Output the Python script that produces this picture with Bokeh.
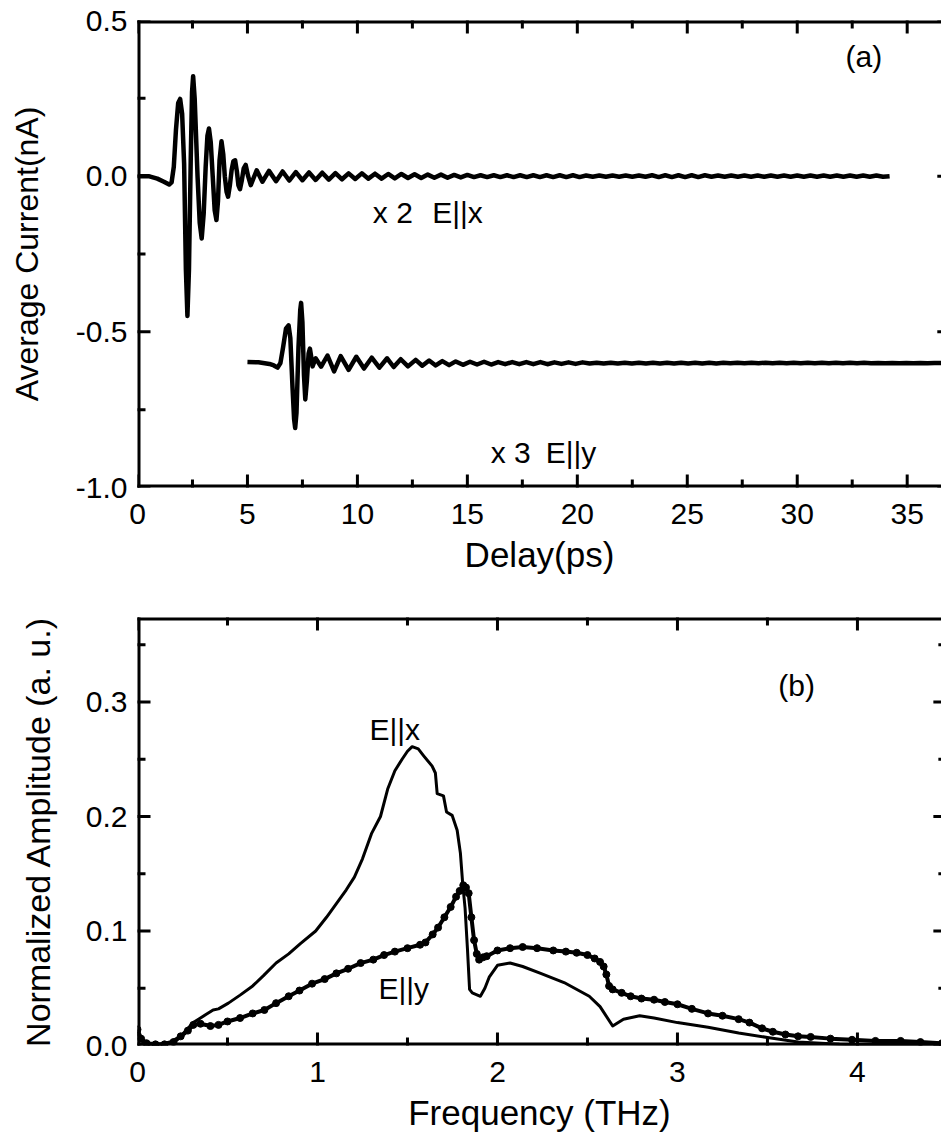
from bokeh.plotting import figure
from bokeh.layouts import column
from bokeh.models import Range1d, LinearAxis, SingleIntervalTicker, PrintfTickFormatter
from bokeh.embed import file_html
from bokeh.resources import INLINE
from bokeh.core.properties import value

FONT = "Liberation Sans"

# ---------------- Panel (a): time-domain traces ----------------
t_ex_pulse = [0.0, 0.5, 0.9, 1.2, 1.44, 1.55, 1.65, 1.75, 1.85, 1.94, 2.03, 2.12, 2.20, 2.27,
              2.34, 2.42, 2.48, 2.53, 2.60, 2.73, 2.83, 2.92, 3.01, 3.10, 3.18, 3.25, 3.33,
              3.42, 3.51, 3.59, 3.66, 3.73, 3.82, 3.90, 3.97, 4.05, 4.12, 4.20, 4.28, 4.36,
              4.44, 4.52, 4.59, 4.66, 4.74, 4.83, 4.92, 5.03]
i_ex_pulse = [0.0, 0.0, -0.008, -0.018, -0.027, -0.02, 0.03, 0.15, 0.235, 0.248, 0.20, 0.04,
              -0.30, -0.449, -0.30, 0.05, 0.27, 0.321, 0.25, 0.0, -0.15, -0.2, -0.12, 0.03,
              0.13, 0.153, 0.11, 0.0, -0.11, -0.141, -0.08, 0.05, 0.112, 0.07, 0.0, -0.05,
              -0.066, -0.03, 0.02, 0.048, 0.051, 0.015, -0.03, -0.042, -0.015, 0.025, 0.036, 0.0]
t_ex_tail = [5.15, 5.42, 5.68, 5.98, 6.30, 6.60, 6.90, 7.20, 7.50, 7.80, 8.10, 8.40, 8.70,
             9.00, 9.30, 9.60, 9.90, 10.20, 10.50, 10.80, 11.10, 11.40, 11.70, 12.00, 12.30,
             12.60, 12.90, 13.20, 13.50, 13.80, 14.10, 14.40, 14.70, 15.00, 15.30, 15.60,
             15.90, 16.20, 16.50, 16.80, 17.10, 17.40, 17.70, 18.00, 18.30, 18.60, 18.90,
             19.20, 19.50, 19.80, 20.10, 20.40, 20.70, 21.00, 21.30, 21.60, 21.90, 22.20,
             22.50, 22.80, 23.10, 23.40, 23.70, 24.00, 24.30, 24.60, 24.90, 25.20, 25.50,
             25.80, 26.10, 26.40, 26.70, 27.00, 27.30, 27.60, 27.90, 28.20, 28.50, 28.80,
             29.10, 29.40, 29.70, 30.00, 30.30, 30.60, 30.90, 31.20, 31.50, 31.80, 32.10,
             32.40, 32.70, 33.00, 33.30, 33.60, 33.90, 34.20]
i_ex_tail = [-0.029, 0.019, -0.018, 0.017,
             -0.016, 0.015, -0.014, 0.013, -0.013, 0.012, -0.012, 0.011, -0.011, 0.010,
             -0.010, 0.009, -0.009, 0.009, -0.008, 0.008, -0.008, 0.007, -0.007, 0.007,
             -0.006, 0.006, -0.006, 0.005, -0.005, 0.005, -0.005, 0.004, -0.004, 0.004,
             -0.003, 0.003, -0.003, 0.003, -0.003, 0.003, -0.003, 0.003, -0.003, 0.003,
             -0.003, 0.003, -0.003, 0.003, -0.003, 0.003, -0.003, 0.002, -0.002, 0.002,
             -0.002, 0.002, -0.002, 0.002, -0.002, 0.002, -0.002, 0.003, -0.003, 0.003,
             -0.003, 0.003, -0.003, 0.003, -0.003, 0.003, -0.002, 0.002, -0.002, 0.002,
             -0.002, 0.002, -0.002, 0.002, -0.002, 0.002, -0.002, 0.002, -0.002, 0.002,
             -0.002, 0.002, -0.002, 0.002, -0.002, 0.002, -0.002, 0.002, -0.002, 0.002,
             -0.002, 0.002, -0.002, 0.0]

t_ey_pulse = [5.0, 5.5, 6.0, 6.2, 6.37, 6.50, 6.62, 6.75, 6.87, 6.95, 7.05, 7.12, 7.17, 7.23,
              7.32, 7.40, 7.44, 7.50, 7.57, 7.63, 7.70, 7.78, 7.84, 7.90, 7.96]
i_ey_pulse = [-0.597, -0.598, -0.603, -0.608, -0.615, -0.600, -0.55, -0.49, -0.479, -0.52,
              -0.68, -0.78, -0.809, -0.76, -0.55, -0.43, -0.407, -0.47, -0.64, -0.717, -0.66,
              -0.57, -0.554, -0.58, -0.611]
t_ey_tail = [8.10, 8.35, 8.64, 8.94, 9.24, 9.60, 9.95, 10.30, 10.65, 11.00, 11.35, 11.65,
             11.97, 12.30, 12.65, 12.95, 13.26, 13.56, 13.86, 14.17, 14.47, 14.80, 15.12,
             15.44, 15.76, 16.08, 16.40, 16.72, 17.04, 17.36, 17.68, 18.00, 18.32, 18.64,
             18.96, 19.28, 19.60, 19.92, 20.24, 20.56, 20.88, 21.20, 21.52, 21.84, 22.16,
             22.48, 22.80, 23.12, 23.44, 23.76, 24.08, 24.40, 24.72, 25.04, 25.36, 25.68,
             26.00, 26.32, 26.64, 26.96, 27.28, 27.60, 27.92, 28.24, 28.56, 28.88, 29.20,
             29.52, 29.84, 30.16, 30.48, 30.80, 31.12, 31.44, 31.76, 32.08, 32.40, 32.72,
             33.04, 33.36, 33.68, 34.00, 34.32, 34.64, 34.96, 35.28, 35.60, 35.92, 36.24,
             36.56, 36.90]
i_ey_tail = [-0.585, -0.612, -0.576, -0.627, -0.578, -0.622, -0.580, -0.618, -0.583, -0.615,
             -0.585, -0.613, -0.588, -0.611, -0.590, -0.609, -0.592, -0.608, -0.594, -0.607,
             -0.595, -0.606,
             -0.596, -0.605, -0.596, -0.605, -0.597, -0.604, -0.597, -0.604, -0.597, -0.604,
             -0.597, -0.604, -0.598, -0.603, -0.598, -0.603, -0.598,
             -0.602, -0.599, -0.602, -0.599, -0.602, -0.599, -0.602, -0.599, -0.602, -0.599,
             -0.602, -0.599, -0.602, -0.599, -0.602, -0.599, -0.602, -0.599, -0.602, -0.599,
             -0.601, -0.599, -0.601, -0.599, -0.601, -0.599, -0.601, -0.599, -0.601, -0.599,
             -0.601, -0.599, -0.601, -0.599, -0.601, -0.599, -0.601, -0.599, -0.601, -0.599,
             -0.601, -0.600, -0.601, -0.600, -0.601, -0.600, -0.601, -0.600, -0.601, -0.600,
             -0.600, -0.600]

t_ex = t_ex_pulse + t_ex_tail
i_ex = i_ex_pulse + i_ex_tail
t_ey = t_ey_pulse + t_ey_tail
i_ey = i_ey_pulse + i_ey_tail

# ---------------- Panel (b): spectra ----------------
f_x = [0.0, 0.03, 0.1, 0.18, 0.24, 0.31, 0.38, 0.42, 0.45, 0.505, 0.57, 0.64, 0.7, 0.77, 0.84,
       0.905, 0.99, 1.05, 1.105, 1.16, 1.205, 1.25, 1.3, 1.35, 1.39, 1.43, 1.47, 1.5, 1.526,
       1.56, 1.59, 1.637, 1.655, 1.665, 1.70, 1.717, 1.748, 1.776, 1.794, 1.807, 1.82, 1.833,
       1.845, 1.86, 1.905, 1.93, 1.955, 2.0, 2.07, 2.14, 2.24, 2.37, 2.51, 2.57, 2.64, 2.7,
       2.79, 2.87, 3.0, 3.17, 3.34, 3.5, 3.67, 3.9, 4.2, 4.47]
a_x = [0.01, 0.003, 0.0, 0.003, 0.008, 0.02, 0.027, 0.031, 0.032, 0.037, 0.044, 0.052, 0.061,
       0.072, 0.080, 0.089, 0.10, 0.112, 0.124, 0.136, 0.147, 0.163, 0.185, 0.2, 0.224, 0.24,
       0.25, 0.257, 0.261, 0.259, 0.253, 0.244, 0.238, 0.220, 0.218, 0.204, 0.201, 0.188,
       0.168, 0.141, 0.12, 0.085, 0.049, 0.046, 0.043, 0.05, 0.060, 0.070, 0.072, 0.069,
       0.063, 0.055, 0.043, 0.034, 0.017, 0.023, 0.026, 0.024, 0.020, 0.016, 0.011, 0.007,
       0.003, 0.001, 0.0, 0.0]

f_y = [0.0, 0.02, 0.05, 0.1, 0.15, 0.2, 0.24, 0.28, 0.31, 0.35, 0.405, 0.45, 0.5, 0.57, 0.64,
       0.705, 0.77, 0.84, 0.9, 0.97, 1.04, 1.105, 1.17, 1.24, 1.31, 1.37, 1.43, 1.5, 1.57, 1.6,
       1.64, 1.67, 1.705, 1.74, 1.77, 1.79, 1.81, 1.825, 1.84, 1.855, 1.87, 1.885, 1.898, 1.92,
       1.94, 2.0, 2.07, 2.14, 2.22, 2.31, 2.38, 2.44, 2.5, 2.54, 2.57, 2.59, 2.605, 2.62, 2.64,
       2.69, 2.74, 2.8, 2.87, 2.93, 3.0, 3.08, 3.17, 3.25, 3.34, 3.4, 3.47, 3.53, 3.6, 3.67,
       3.74, 3.85, 3.97, 4.1, 4.24, 4.35, 4.47]
a_y = [0.014, 0.006, 0.002, 0.001, 0.001, 0.003, 0.008, 0.013, 0.018, 0.019, 0.017, 0.018,
       0.021, 0.024, 0.028, 0.031, 0.037, 0.043, 0.048, 0.054, 0.058, 0.063, 0.067, 0.072,
       0.075, 0.079, 0.082, 0.085, 0.088, 0.090, 0.097, 0.103, 0.112, 0.121, 0.13, 0.135,
       0.14, 0.138, 0.133, 0.112, 0.092, 0.08, 0.075, 0.077, 0.078, 0.083, 0.085, 0.086,
       0.085, 0.083, 0.082, 0.081, 0.079, 0.076, 0.073, 0.069, 0.062, 0.052, 0.049, 0.046,
       0.043, 0.041, 0.040, 0.038, 0.036, 0.032, 0.028, 0.026, 0.023, 0.020, 0.015, 0.012,
       0.0096, 0.008, 0.0075, 0.006, 0.005, 0.004, 0.004, 0.003, 0.002]

# ---------------- tick positions (axis values) ----------------
a_xmajor = [0, 5, 10, 15, 20, 25, 30, 35]
a_xminor = [2.5, 7.5, 12.5, 17.5, 22.5, 27.5, 32.5]
a_ymajor = [-1.0, -0.5, 0.0, 0.5]
a_yminor = [-0.75, -0.25, 0.25]
b_xmajor = [0, 1, 2, 3, 4]
b_xminor = [0.5, 1.5, 2.5, 3.5]
b_ymajor = [0.0, 0.1, 0.2, 0.3]
b_yminor = [0.05, 0.15, 0.25, 0.35]

A_X = (0, 36.56, 36.96)
A_Y = (-1.0, 0.5)
B_X = (0, 4.467, 4.494)
B_Y = (0, 0.3738)

WIDTH = 941
LEFT = 137
MAJ, MIN = 13, 8
OUT = 5


def style_axis(ax, interval, fmt, horizontal, label_size, label_standoff):
    ax.ticker = SingleIntervalTicker(interval=interval, num_minor_ticks=2)
    ax.formatter = PrintfTickFormatter(format=fmt)
    ax.axis_line_color = None
    ax.major_tick_line_color = None
    ax.minor_tick_line_color = None
    ax.major_tick_in = 0
    ax.major_tick_out = 0
    ax.minor_tick_in = 0
    ax.minor_tick_out = 0
    ax.major_label_text_font = FONT
    ax.major_label_text_color = "black"
    ax.major_label_text_font_size = "30px"
    ax.major_label_standoff = 16 if horizontal else 10
    ax.axis_label_text_font = FONT
    ax.axis_label_text_font_size = label_size
    ax.axis_label_text_font_style = "normal"
    ax.axis_label_text_color = "black"
    ax.axis_label_standoff = label_standoff


def make_fig(height, xr, yr, top, bottom):
    p = figure(width=WIDTH, height=height, x_range=Range1d(xr[0], xr[1]),
               y_range=Range1d(yr[0], yr[1]),
               output_backend="svg", toolbar_location=None,
               min_border_left=LEFT, min_border_right=0,
               min_border_top=top, min_border_bottom=bottom,
               x_axis_location=None, y_axis_location=None)
    p.grid.visible = False
    p.outline_line_color = None
    p.background_fill_color = "white"
    p.border_fill_color = "white"
    return p


def decorate(p, height, top, bottom, xint, yint, xlabel, ylabel, xsize, ysize, ystandoff,
             xr, yr, xmaj, xmin, ymaj, ymin):
    bx = LinearAxis(axis_label=xlabel)
    style_axis(bx, xint, "%d", True, xsize, 8)
    p.add_layout(bx, "below")
    ly = LinearAxis(axis_label=ylabel)
    style_axis(ly, yint, "%.1f", False, ysize, ystandoff)
    p.add_layout(ly, "left")

    sx = (WIDTH - LEFT) / (xr[1] - xr[0])
    sy = (height - top - bottom) / (yr[1] - yr[0])

    p.line([xr[0], xr[0]], [yr[0] - OUT / sy, yr[1] + OUT / sy],
           line_color="black", line_width=6)
    p.line([xr[0] - OUT / sx, xr[2]], [yr[0], yr[0]], line_color="black", line_width=6)
    p.line([xr[0] - OUT / sx, xr[2]], [yr[1], yr[1]], line_color="black", line_width=6)

    for vals, ln in ((xmaj, MAJ), (xmin, MIN)):
        for v in vals:
            p.line([v, v], [yr[0] - OUT / sy, yr[0] + ln / sy],
                   line_color="black", line_width=3)
            p.line([v, v], [yr[1] + OUT / sy, yr[1] - ln / sy],
                   line_color="black", line_width=3)
    for vals, ln in ((ymaj, MAJ), (ymin, MIN)):
        for v in vals:
            p.line([xr[0] - OUT / sx, xr[0] + ln / sx], [v, v],
                   line_color="black", line_width=3)
            p.line([xr[2] - ln / sx, xr[2] + OUT / sx], [v, v],
                   line_color="black", line_width=3)


H1, T1, B1 = 600, 20, 113
p1 = make_fig(H1, A_X, A_Y, T1, B1)
decorate(p1, H1, T1, B1, 5, 0.5, "Delay(ps)", "Average Current(nA)", "35px", "32px", 28,
         A_X, A_Y, a_xmajor, a_xminor, a_ymajor, a_yminor)
p1.line(t_ex, i_ex, line_color="black", line_width=4.5, line_join="round")
p1.line(t_ey, i_ey, line_color="black", line_width=4.5, line_join="round")
p1.text(x=[10.7, 13.4, 16.06, 18.56, 32.2], y=[-0.116, -0.116, -0.886, -0.886, 0.385],
        text=["x 2", "E||x", "x 3", "E||y", "(a)"],
        text_font=value(FONT), text_font_size="30px", text_color="black",
        text_baseline="middle", text_align="left")

H2, T2, B2 = 545, 17, 100
p2 = make_fig(H2, B_X, B_Y, T2, B2)
decorate(p2, H2, T2, B2, 1, 0.1, "Frequency (THz)", "Normalized Amplitude (a. u.)", "35px",
         "34px", 26, B_X, B_Y, b_xmajor, b_xminor, b_ymajor, b_yminor)
p2.line(f_x, a_x, line_color="black", line_width=3, line_join="round")
p2.line(f_y, a_y, line_color="black", line_width=4, line_join="round")
p2.scatter(f_y, a_y, marker="circle", size=7, color="black")
p2.text(x=[1.289, 1.339, 3.56], y=[0.276, 0.050, 0.314], text=["E||x", "E||y", "(b)"],
        text_font=value(FONT), text_font_size="30px", text_color="black",
        text_baseline="middle", text_align="left")

layout = column(p1, p2, spacing=0)
open("out.html", "w").write(file_html(layout, INLINE))
